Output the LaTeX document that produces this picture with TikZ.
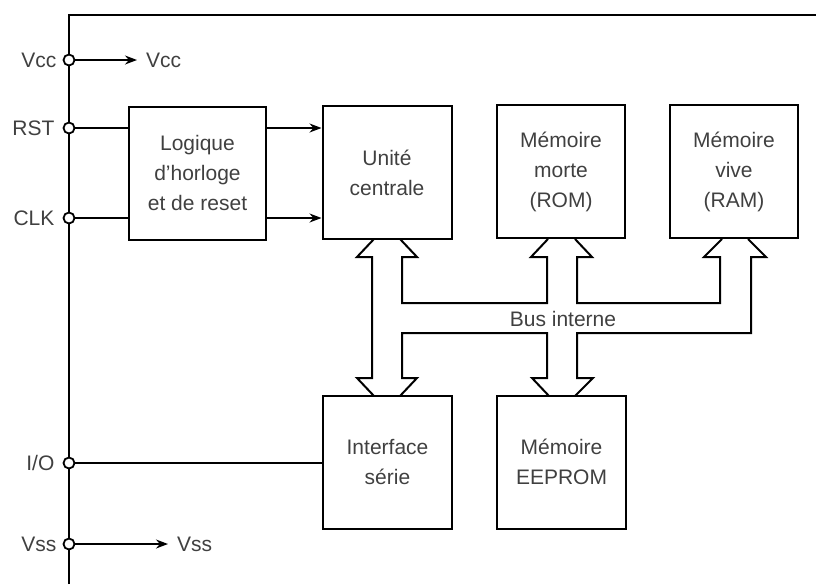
\documentclass[tikz,border=0pt]{standalone}
\usepackage{fontspec}
\setmainfont{Liberation Sans}
\usetikzlibrary{positioning,arrows.meta}

\tikzset{
  bloc/.style={draw=black, line width=2pt, minimum width=129pt, minimum height=133pt,
    align=center, text=black!75, font=\fontsize{21}{30}\selectfont, inner sep=0pt},
  borne/.style={circle, draw=black, fill=white, line width=1.8pt, minimum size=11pt, inner sep=0pt},
  etiq/.style={text=black!75, font=\fontsize{21}{24}\selectfont, inner sep=0pt},
  fil/.style={black, line width=1.4pt},
  fleche/.style={fil, -{Stealth[length=12pt,width=9pt]}},
  bus/.style={black, line width=2pt, line join=miter},
}

\begin{document}
\begin{tikzpicture}[x=1pt,y=-1pt]
\useasboundingbox (0,0) rectangle (816,584);
% boitier
\draw [black,line width=2.6pt] (69,584) -- (69,15) -- (816,15);

% blocs
\node [bloc,minimum width=137pt] (logique) at (197.5,173) {Logique\\d'horloge\\et de reset};
\node [bloc] (uc) at (387,172.5) {Unité\\centrale};
\node [bloc,minimum width=128pt] (rom) at (561,171.5) {Mémoire\\morte\\(ROM)};
\node [bloc,minimum width=128pt] (ram) at (734,171.5) {Mémoire\\vive\\(RAM)};
\node [bloc] (serie) at (387.5,462) {Interface\\série};
\node [bloc] (eeprom) at (561.5,462) {Mémoire\\EEPROM};

% bornes
\node [borne] (vcc) at (69,60) {};
\node [borne] (rst) at (69,128) {};
\node [borne] (clk) at (69,218) {};
\node [borne] (io) at (69,463) {};
\node [borne] (vss) at (69,544) {};
\node [etiq,left=6pt of vcc] (vcclbl) {Vcc};
\node [etiq,left=8pt of rst] (rstlbl) {RST};
\node [etiq,left=8pt of clk] (clklbl) {CLK};
\node [etiq,left=8pt of io] (iolbl) {I/O};
\node [etiq,left=6pt of vss] (vsslbl) {Vss};

\coordinate (vccout) at (137,60);
\coordinate (vssout) at (168,544);
\node [etiq,right=9pt of vccout] (vccdst) {Vcc};
\node [etiq,right=9pt of vssout] (vssdst) {Vss};
\draw [fleche] (vcc) -- (vccout);
\draw [fleche] (vss) -- (vssout);

\draw [fil] (rst) -- (rst -| logique.west);
\draw [fil] (clk) -- (clk -| logique.west);
\draw [fleche] (rst -| logique.east) -- (rst -| uc.west);
\draw [fleche] (clk -| logique.east) -- (clk -| uc.west);
\draw [fil] (io) -- (io -| serie.west);

% bus interne
\draw [bus] (374,239) -- (357,257) -- (372,257) -- (372,378) -- (357,378) -- (374,396);
\draw [bus] (400,239) -- (417,257) -- (402,257) -- (402,303) -- (547,303) -- (547,257)
  -- (531,257) -- (548,239);
\draw [bus] (575,239) -- (592,257) -- (577,257) -- (577,303) -- (720,303) -- (720,257)
  -- (704,257) -- (722,239);
\draw [bus] (748,239) -- (766,257) -- (751,257) -- (751,333) -- (577,333) -- (577,378)
  -- (593,378) -- (575,396);
\draw [bus] (549,396) -- (532,378) -- (547,378) -- (547,333) -- (402,333) -- (402,378)
  -- (417,378) -- (400,396);
\node [etiq] (bus) at (563,319) {Bus interne};
\end{tikzpicture}
\end{document}
